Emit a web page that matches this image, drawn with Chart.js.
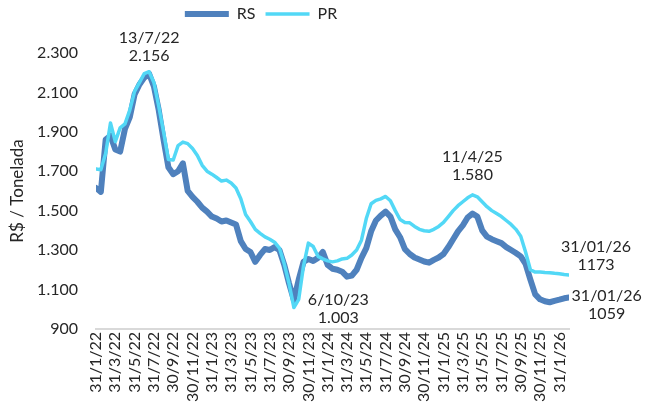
<!DOCTYPE html>
<html>
<head>
<meta charset="utf-8">
<script src="https://cdn.jsdelivr.net/npm/chart.js@4"></script>
<style>
  body { margin: 0; background: #fff; }
  #wrap { width: 651px; height: 408px; }
</style>
</head>
<body>
<div id="wrap"><canvas id="precoChart"></canvas></div>
<script>
// tick labels every 2 months, 31/1/22 .. 31/1/26
const xTickLabels = ['31/1/22', '31/3/22', '31/5/22', '31/7/22', '30/9/22', '30/11/22',
    '31/1/23', '31/3/23', '31/5/23', '31/7/23', '30/9/23', '30/11/23',
    '31/1/24', '31/3/24', '31/5/24', '31/7/24', '30/9/24', '30/11/24',
    '31/1/25', '31/3/25', '31/5/25', '31/7/25', '30/9/25', '30/11/25', '31/1/26'];

// R$/t, one reading every half month from 31/1/22
const rsValues = [1615, 1595, 1860, 1880, 1810, 1800, 1915, 1975, 2090, 2140,
    2175, 2195, 2130, 2010, 1860, 1720, 1685, 1700, 1740, 1600,
    1570, 1545, 1515, 1495, 1470, 1460, 1445, 1450, 1440, 1430,
    1345, 1305, 1290, 1240, 1275, 1305, 1300, 1315, 1300, 1225,
    1130, 1045, 1150, 1240, 1255, 1245, 1260, 1290, 1225, 1205,
    1200, 1190, 1165, 1170, 1200, 1260, 1310, 1395, 1450, 1475,
    1495, 1470, 1405, 1365, 1305, 1280, 1262, 1252, 1242, 1236,
    1250, 1262, 1280, 1315, 1355, 1395, 1425, 1465, 1485, 1470,
    1400, 1368, 1355, 1345, 1335, 1315, 1300, 1285, 1268, 1230,
    1150, 1075, 1050, 1040, 1035, 1042, 1048, 1055, 1059];

const prValues = [1712, 1708, 1790, 1945, 1850, 1920, 1940, 2010, 2105, 2150,
    2195, 2205, 2150, 2030, 1900, 1760, 1757, 1830, 1848, 1840,
    1815, 1780, 1730, 1700, 1685, 1668, 1650, 1655, 1640, 1615,
    1560, 1480, 1445, 1405, 1385, 1367, 1355, 1340, 1310, 1230,
    1130, 1008, 1050, 1220, 1335, 1318, 1268, 1255, 1245, 1240,
    1245, 1255, 1258, 1275, 1300, 1350, 1460, 1535, 1552, 1560,
    1572, 1550, 1500, 1455, 1440, 1438, 1420, 1405, 1398, 1395,
    1405, 1420, 1440, 1470, 1500, 1525, 1545, 1565, 1580, 1570,
    1545, 1520, 1500, 1485, 1470, 1450, 1430, 1405, 1370, 1290,
    1200, 1188, 1188, 1186, 1185, 1182, 1180, 1176, 1173];

// callouts: position in months / R$ of the text block centre
const notes = [
    { lines: ['13/7/22', '2.156'], month: 5.5, value: 2333 },
    { lines: ['6/10/23', '1.003'], month: 25.1, value: 1000 },
    { lines: ['11/4/25', '1.580'], month: 39.0, value: 1727 },
    { lines: ['31/01/26', '1173'], month: 51.8, value: 1273 },
    { lines: ['31/01/26', '1059'], month: 52.9, value: 1020 }
];

const textColor = '#262626';
const fontFamily = 'Lato, "Open Sans", sans-serif';

function fmtBR(v) {
    return String(v).replace(/\B(?=(\d{3})+(?!\d))/g, '.');
}

const notesPlugin = {
    id: 'notes',
    afterLayout(chart) {
        // legend sits a bit left of centre and close to the top edge
        const lg = chart.legend;
        lg.left -= 27;
        lg.right -= 27;
        lg.top -= 21;
        lg.bottom -= 21;
    },
    afterDatasetsDraw(chart) {
        const ctx = chart.ctx;
        const xs = chart.scales.x;
        const ys = chart.scales.y;
        ctx.save();
        ctx.fillStyle = textColor;
        ctx.font = '16px ' + fontFamily;
        ctx.textAlign = 'center';
        ctx.textBaseline = 'middle';
        notes.forEach(n => {
            const px = xs.getPixelForValue(n.month);
            const py = ys.getPixelForValue(n.value);
            ctx.fillText(n.lines[0], px, py - 9);
            ctx.fillText(n.lines[1], px, py + 9);
        });
        ctx.restore();
    }
};

const ctx = document.getElementById('precoChart').getContext('2d');
new Chart(ctx, {
    type: 'line',
    data: {
        datasets: [{
            label: 'RS',
            data: rsValues.map((v, i) => ({ x: i * 0.5, y: v })),
            borderColor: '#4f81bd',
            backgroundColor: '#4f81bd',
            borderWidth: 6,
            borderCapStyle: 'round',
            borderJoinStyle: 'round',
            pointRadius: 0,
            tension: 0,
            order: 1
        }, {
            label: 'PR',
            data: prValues.map((v, i) => ({ x: i * 0.5, y: v })),
            borderColor: '#52d8f6',
            backgroundColor: '#52d8f6',
            borderWidth: 3.5,
            borderCapStyle: 'round',
            borderJoinStyle: 'round',
            pointRadius: 0,
            tension: 0,
            order: 0
        }]
    },
    options: {
        responsive: true,
        maintainAspectRatio: false,
        animation: false,
        layout: { padding: { top: 17, left: 7, right: 82, bottom: 3 } },
        plugins: {
            legend: {
                position: 'top',
                labels: {
                    usePointStyle: true,
                    pointStyle: 'line',
                    pointStyleWidth: 44,
                    boxWidth: 44,
                    color: textColor,
                    font: { family: fontFamily, size: 16 },
                    padding: 10,
                    sort: (a, b) => a.datasetIndex - b.datasetIndex
                }
            },
            tooltip: { enabled: false }
        },
        scales: {
            x: {
                type: 'linear',
                min: 0,
                max: 49,
                grid: { display: false, drawTicks: false },
                border: { display: true, color: '#d9d9d9', width: 2 },
                afterBuildTicks: scale => {
                    scale.ticks = xTickLabels.map((l, i) => ({ value: i * 2 }));
                },
                ticks: {
                    autoSkip: false,
                    minRotation: 90,
                    maxRotation: 90,
                    padding: 3,
                    color: textColor,
                    font: { family: fontFamily, size: 16 },
                    callback: v => xTickLabels[Math.round(v / 2)]
                }
            },
            y: {
                min: 900,
                max: 2300,
                grid: { display: false, drawTicks: false },
                border: { display: false },
                afterFit: scale => { scale.width = 89; },
                ticks: {
                    stepSize: 200,
                    padding: 18,
                    color: textColor,
                    font: { family: fontFamily, size: 16 },
                    callback: v => fmtBR(v)
                },
                title: {
                    display: true,
                    text: 'R$ / Tonelada',
                    color: textColor,
                    font: { family: fontFamily, size: 17 },
                    padding: { top: 0, bottom: 6 }
                }
            }
        }
    },
    plugins: [notesPlugin]
});
</script>
</body>
</html>
